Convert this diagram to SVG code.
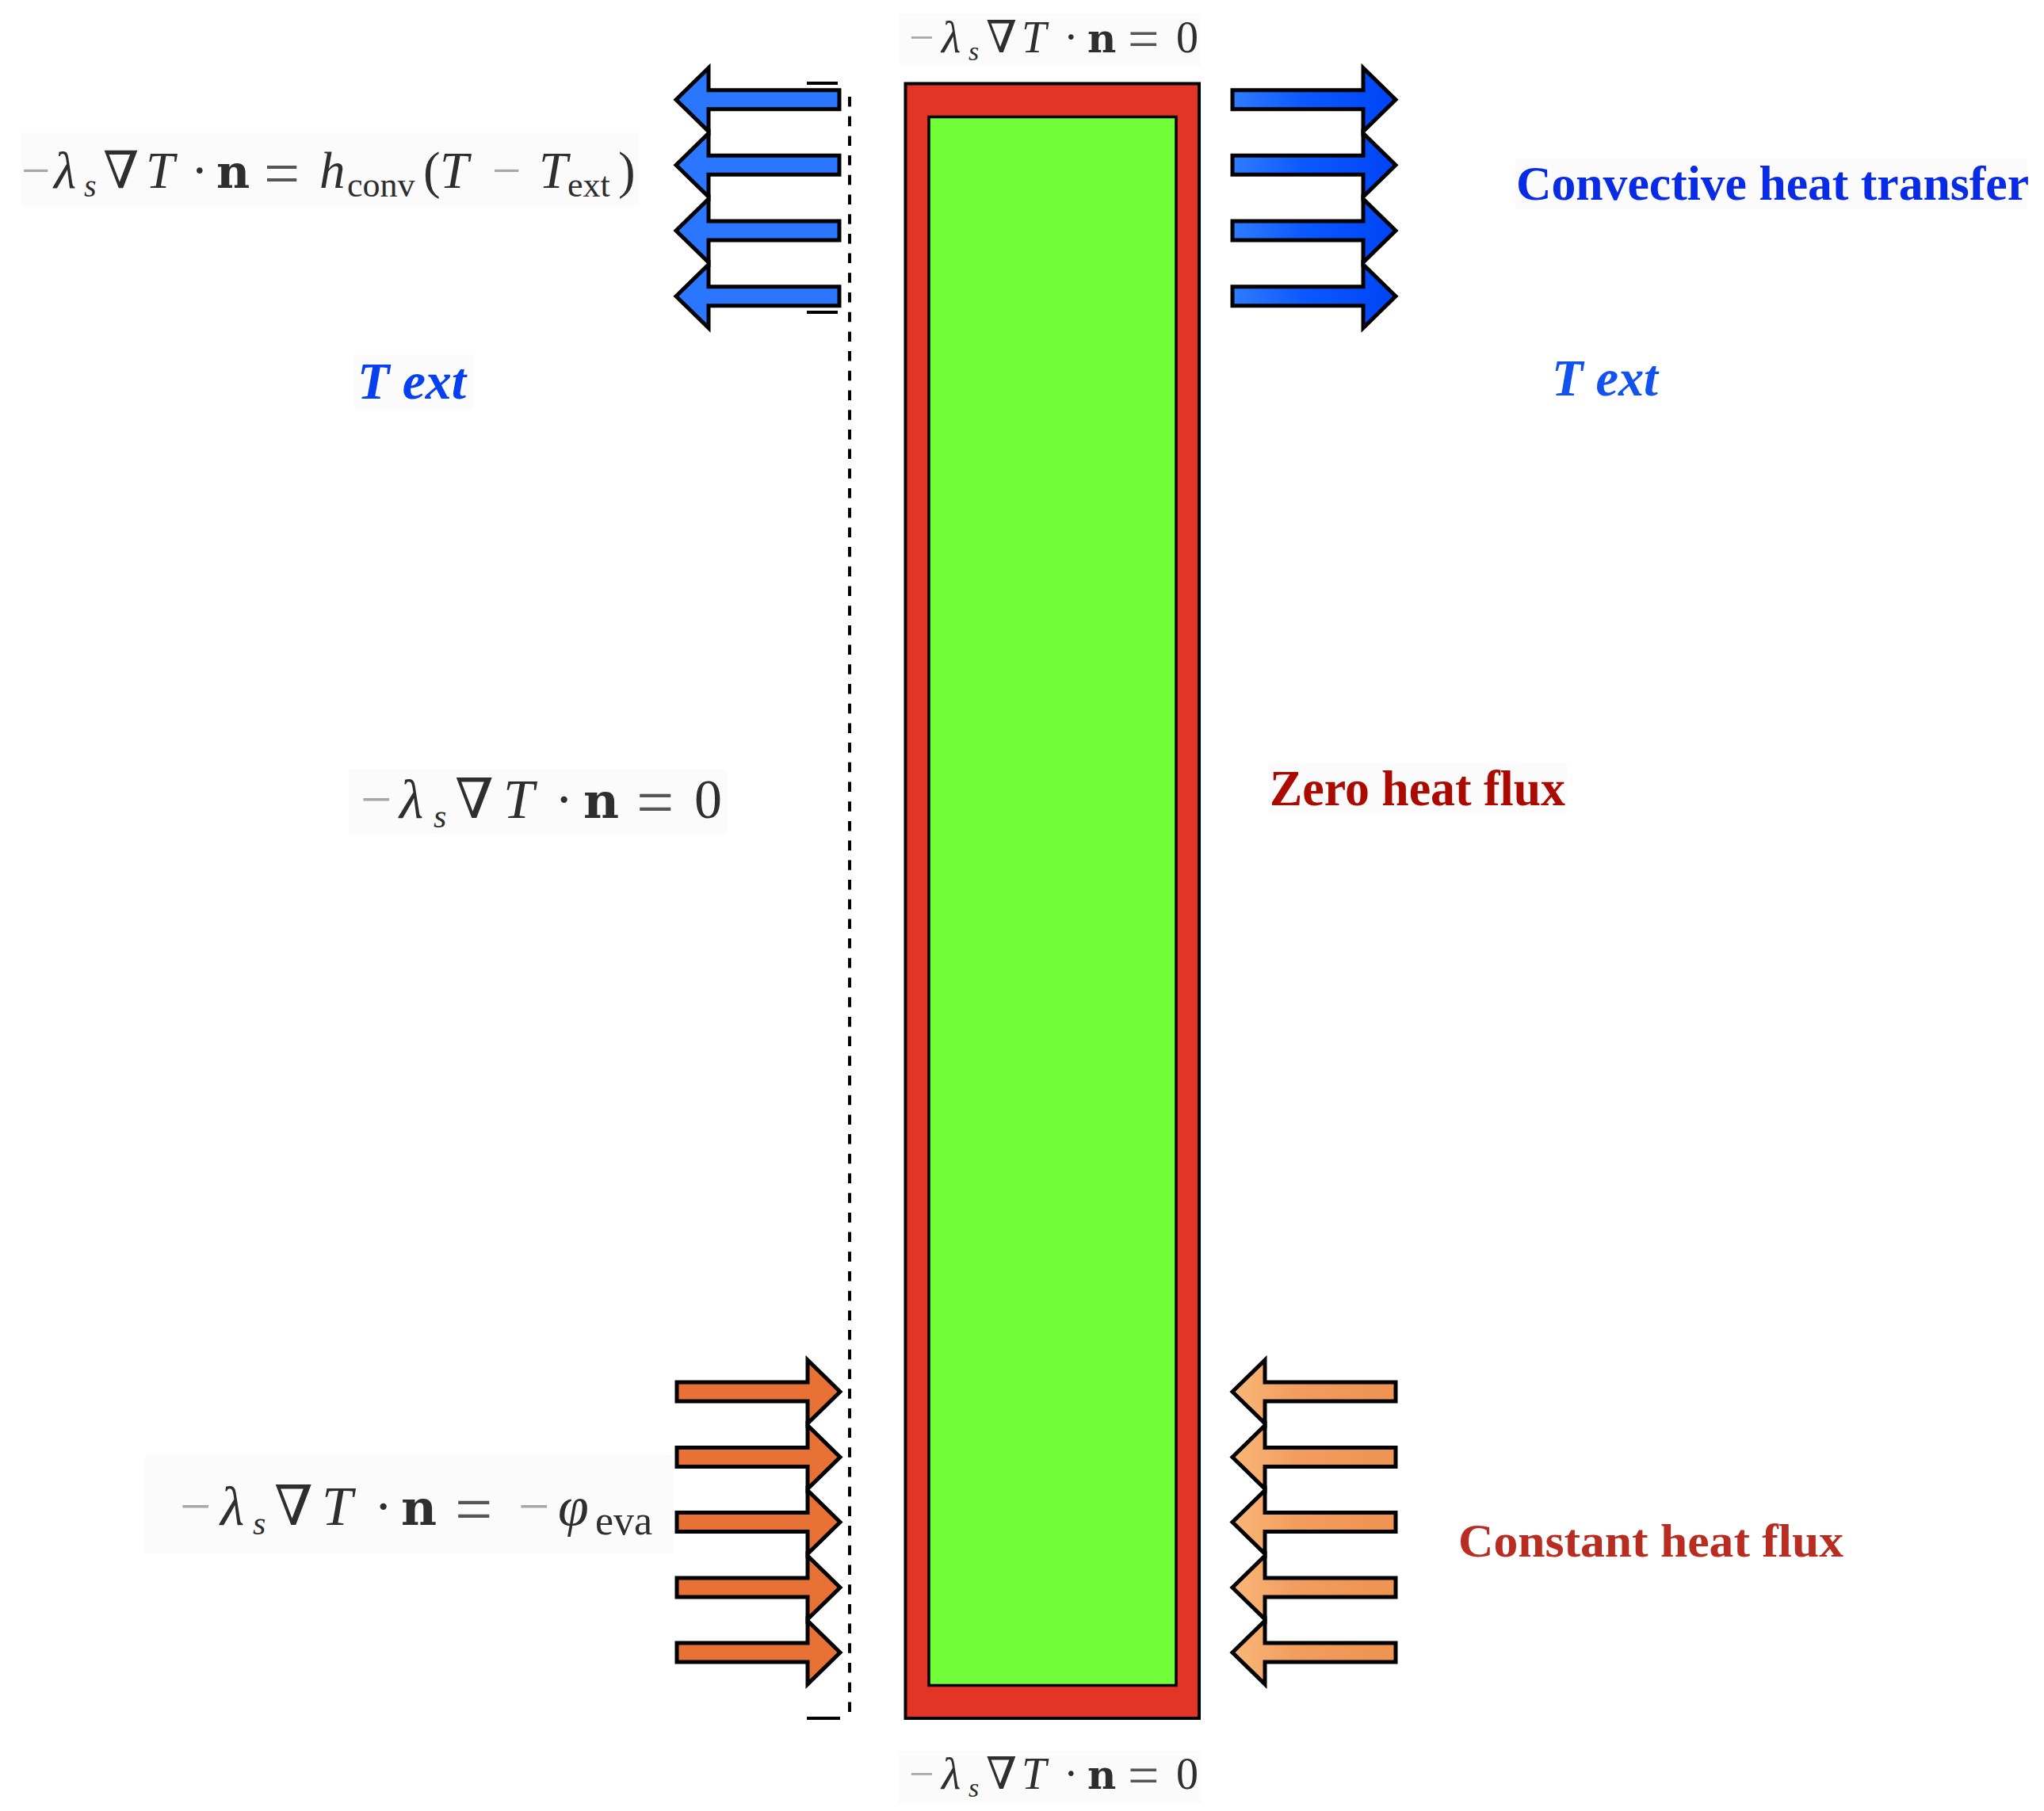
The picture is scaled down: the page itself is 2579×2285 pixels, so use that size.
<svg xmlns="http://www.w3.org/2000/svg" width="2579" height="2285" viewBox="0 0 2579 2285">
<style>
.bg{fill:#fbfbfb}
.eq{font-family:"Liberation Serif","DejaVu Serif",serif;fill:#2e2e2e}
.it{font-style:italic}
.b{font-weight:bold;font-family:"DejaVu Serif","Liberation Serif",serif}
.m{fill:#a8a8a8}
.e{fill:#555}
.lab{font-family:"Liberation Serif",serif;font-weight:bold}
.ar{stroke:#000;stroke-width:5;stroke-miterlimit:10;stroke-linejoin:miter}
.bl{fill:#2b76ff}
.br{fill:url(#gb)}
.ol{fill:#e87235}
.or{fill:url(#go)}
</style>
<defs>
<linearGradient id="gb" x1="0" x2="1" y1="0" y2="0"><stop offset="0" stop-color="#2f7cff"/><stop offset="0.45" stop-color="#0a58ff"/><stop offset="1" stop-color="#0044f5"/></linearGradient>
<linearGradient id="go" x1="0" x2="1" y1="0" y2="0"><stop offset="0" stop-color="#f9b878"/><stop offset="0.4" stop-color="#f29c5e"/><stop offset="1" stop-color="#ee9350"/></linearGradient>
<path id="pl" d="M0,0L41,-40V-12H206V12H41V40Z"/>
<path id="pr" d="M0,0L-41,-40V-12H-206V12H-41V40Z"/>
</defs>
<rect width="2579" height="2285" fill="#fff"/>
<g id="bar"><rect x="1142.500" y="105.500" width="370.500" height="2062.500" fill="#e33527" stroke="#000" stroke-width="4"/><rect x="1172" y="147.500" width="312" height="1979" fill="#72ff3a" stroke="#000" stroke-width="3.500"/></g>
<g id="connectors"><path d="M1072,122V2162" fill="none" stroke="#000" stroke-width="4" stroke-dasharray="12.500 12.200"/><path d="M1018,105H1057M1018,394H1057M1018,2168H1060" fill="none" stroke="#000" stroke-width="4"/></g>
<g id="arrows-blue-left">
<use href="#pl" class="ar bl" x="853" y="125.700"/><use href="#pl" class="ar bl" x="853" y="208.300"/><use href="#pl" class="ar bl" x="853" y="291"/><use href="#pl" class="ar bl" x="853" y="373.700"/></g>
<g id="arrows-blue-right">
<use href="#pr" class="ar br" x="1761" y="125.700"/><use href="#pr" class="ar br" x="1761" y="208.300"/><use href="#pr" class="ar br" x="1761" y="291"/><use href="#pr" class="ar br" x="1761" y="373.700"/></g>
<g id="arrows-orange-left">
<use href="#pr" class="ar ol" x="1060" y="1756"/><use href="#pr" class="ar ol" x="1060" y="1838.500"/><use href="#pr" class="ar ol" x="1060" y="1920.500"/><use href="#pr" class="ar ol" x="1060" y="2003"/><use href="#pr" class="ar ol" x="1060" y="2085"/></g>
<g id="arrows-orange-right">
<use href="#pl" class="ar or" x="1555" y="1756"/><use href="#pl" class="ar or" x="1555" y="1838.500"/><use href="#pl" class="ar or" x="1555" y="1920.500"/><use href="#pl" class="ar or" x="1555" y="2003"/><use href="#pl" class="ar or" x="1555" y="2085"/></g>
<g id="eq-top"><rect class="bg" x="1135" y="17" width="380" height="66"/>
<text class="eq" y="66" font-size="56"><tspan class="m" x="1147">−</tspan><tspan class="it" x="1188">λ</tspan><tspan class="it" x="1222" y="76" font-size="34">s</tspan><tspan x="1244" y="66">∇</tspan><tspan class="it" x="1289">T</tspan><tspan x="1342">·</tspan><tspan class="b" x="1372" font-size="50">n</tspan><tspan class="e" x="1423" y="73" font-size="70">=</tspan><tspan x="1484" y="66">0</tspan></text></g>
<g id="eq-bottom"><rect class="bg" x="1133" y="2209" width="383" height="66"/>
<text class="eq" y="2257" font-size="56"><tspan class="m" x="1147">−</tspan><tspan class="it" x="1188">λ</tspan><tspan class="it" x="1222" y="2267" font-size="34">s</tspan><tspan x="1244" y="2257">∇</tspan><tspan class="it" x="1289">T</tspan><tspan x="1342">·</tspan><tspan class="b" x="1372" font-size="50">n</tspan><tspan class="e" x="1423" y="2264" font-size="70">=</tspan><tspan x="1484" y="2257">0</tspan></text></g>
<g id="eq-convection"><rect class="bg" x="27" y="167" width="780" height="93"/>
<text class="eq" y="237" font-size="65"><tspan class="m" x="27">−</tspan><tspan class="it" x="68">λ</tspan><tspan class="it" x="106" y="248" font-size="40">s</tspan><tspan x="130" y="237">∇</tspan><tspan class="it" x="184">T</tspan><tspan x="241">·</tspan><tspan class="b" x="273" font-size="58">n</tspan><tspan class="e" x="333" y="246" font-size="80">=</tspan><tspan class="it" x="403" y="237">h</tspan><tspan x="438" y="248" font-size="44">conv</tspan><tspan x="534" y="237">(</tspan><tspan class="it" x="555">T</tspan><tspan class="m" x="621">−</tspan><tspan class="it" x="680">T</tspan><tspan x="716" y="248" font-size="44">ext</tspan><tspan x="780" y="237">)</tspan></text></g>
<g id="eq-mid"><rect class="bg" x="440" y="971" width="477" height="81"/>
<text class="eq" y="1032" font-size="70"><tspan class="m" x="455">−</tspan><tspan class="it" x="504">λ</tspan><tspan class="it" x="547" y="1044" font-size="42">s</tspan><tspan x="574" y="1032">∇</tspan><tspan class="it" x="635">T</tspan><tspan x="700">·</tspan><tspan class="b" x="736" font-size="62">n</tspan><tspan class="e" x="803" y="1041" font-size="84">=</tspan><tspan x="876" y="1032">0</tspan></text></g>
<g id="eq-evap"><rect class="bg" x="183" y="1836" width="667" height="124"/>
<text class="eq" y="1924" font-size="70"><tspan class="m" x="227">−</tspan><tspan class="it" x="278">λ</tspan><tspan class="it" x="319" y="1936" font-size="42">s</tspan><tspan x="346" y="1924">∇</tspan><tspan class="it" x="406">T</tspan><tspan x="472">·</tspan><tspan class="b" x="506" font-size="62">n</tspan><tspan class="e" x="574" y="1933" font-size="84">=</tspan><tspan class="m" x="654" y="1924">−</tspan><tspan class="it" x="704">φ</tspan><tspan x="751" y="1936" font-size="52">eva</tspan></text></g>
<g id="label-convective"><rect class="bg" x="1912" y="200" width="646" height="64"/><text class="lab" x="1913" y="252" font-size="62" fill="#0a2be6" textLength="647" lengthAdjust="spacingAndGlyphs">Convective heat transfer</text></g>
<g id="label-zero"><rect class="bg" x="1601" y="962" width="376" height="65"/><text class="lab" x="1602" y="1016" font-size="64" fill="#aa0a00" textLength="373" lengthAdjust="spacingAndGlyphs">Zero heat flux</text></g>
<g id="label-constant"><text class="lab" x="1840" y="1964" font-size="60" fill="#b92c22" textLength="486" lengthAdjust="spacingAndGlyphs">Constant heat flux</text></g>
<g id="label-text-left"><rect class="bg" x="447" y="447" width="151" height="69"/><text class="lab" x="451" y="503" font-size="66" font-style="italic" fill="#0640f0" textLength="137" lengthAdjust="spacingAndGlyphs">T ext</text></g>
<g id="label-text-right"><text class="lab" x="1958" y="499" font-size="66" font-style="italic" fill="#1252ee" textLength="134" lengthAdjust="spacingAndGlyphs">T ext</text></g>
</svg>
